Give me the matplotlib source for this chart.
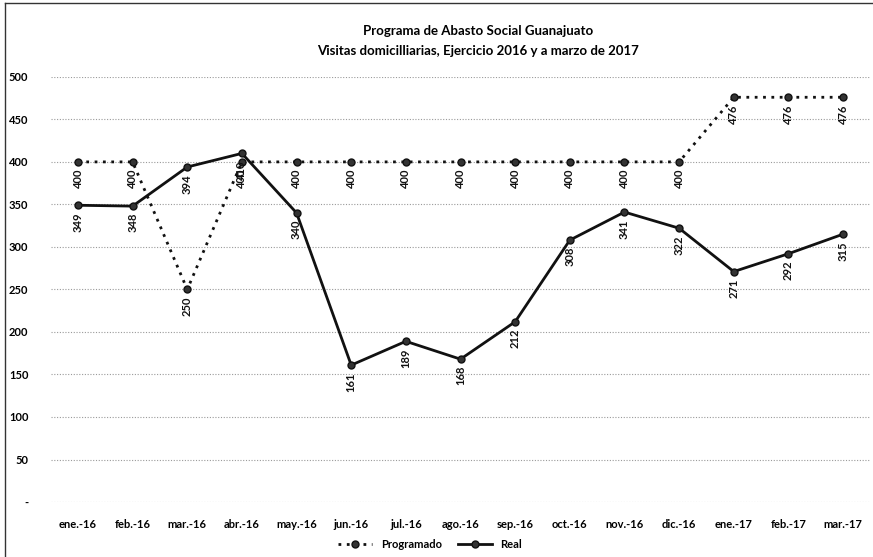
import matplotlib
matplotlib.use("Agg")
import matplotlib.pyplot as plt
from matplotlib.lines import Line2D

plt.rcParams['font.family'] = ['Lato', 'DejaVu Sans']

months = ["ene.-16", "feb.-16", "mar.-16", "abr.-16", "may.-16", "jun.-16", "jul.-16",
          "ago.-16", "sep.-16", "oct.-16", "nov.-16", "dic.-16", "ene.-17", "feb.-17", "mar.-17"]
programado = [400, 400, 250, 400, 400, 400, 400, 400, 400, 400, 400, 400, 476, 476, 476]
real = [349, 348, 394, 410, 340, 161, 189, 168, 212, 308, 341, 322, 271, 292, 315]
yticks = [0, 50, 100, 150, 200, 250, 300, 350, 400, 450, 500]

fig = plt.figure(figsize=(8.73, 5.57), dpi=100)
ax = fig.add_axes([0.058, 0.0987, 0.939, 0.7633])

x = list(range(len(months)))
ax.plot(x, programado, linestyle=(0, (1, 2)), color='#111111', lw=2.0,
        marker='o', markersize=5, markerfacecolor='#333333', markeredgecolor='#111111', zorder=3)
ax.plot(x, real, linestyle='-', color='#111111', lw=2.0,
        marker='o', markersize=5, markerfacecolor='#333333', markeredgecolor='#111111', zorder=3)

for xi, v in zip(x, programado):
    ax.annotate(str(v), (xi, v), xytext=(0, -5), textcoords='offset points',
                rotation=90, ha='center', va='top', fontsize=8, fontweight='bold', color='#111111')
for xi, v in zip(x, real):
    ax.annotate(str(v), (xi, v), xytext=(0, -5), textcoords='offset points',
                rotation=90, ha='center', va='top', fontsize=8, fontweight='bold', color='#111111')

ax.set_xlim(-0.5, len(months) - 0.5)
ax.set_ylim(0, 500)
ax.set_yticks(yticks)
ax.set_yticklabels(['-' if t == 0 else str(t) for t in yticks], fontsize=8, fontweight='bold')
ax.set_xticks(x)
ax.set_xticklabels(months, fontsize=8, fontweight='bold')
ax.tick_params(length=0, pad=12)
ax.tick_params(axis='y', pad=16)
for s in ax.spines.values():
    s.set_visible(False)
ax.grid(axis='y', color='#9a9a9a', linestyle=(0, (1, 1.5)), lw=0.8)
ax.set_axisbelow(True)

fig.text(0.548, 0.945, "Programa de Abasto Social Guanajuato", ha='center', va='center',
         fontsize=9.5, fontweight='bold')
fig.text(0.548, 0.908, "Visitas domicilliarias, Ejercicio 2016 y a marzo de 2017", ha='center', va='center',
         fontsize=9.5, fontweight='bold')

handles = [Line2D([], [], linestyle=(0, (1, 2)), color='#111111', lw=2, marker='o', markersize=5,
                  markerfacecolor='#333333'),
           Line2D([], [], linestyle='-', color='#111111', lw=2, marker='o', markersize=5,
                  markerfacecolor='#333333')]
fig.legend(handles, ["Programado", "Real"], loc='center', bbox_to_anchor=(0.493, 0.022),
           ncol=2, frameon=False, handlelength=3, columnspacing=1.5,
           prop={'weight': 'bold', 'size': 8})

fig.add_artist(Line2D([0.006, 0.006], [0, 0.995], transform=fig.transFigure, color='#333333', lw=1))
fig.add_artist(Line2D([0.006, 1.0], [0.995, 0.995], transform=fig.transFigure, color='#333333', lw=1))

fig.savefig("out.png", dpi=100)
